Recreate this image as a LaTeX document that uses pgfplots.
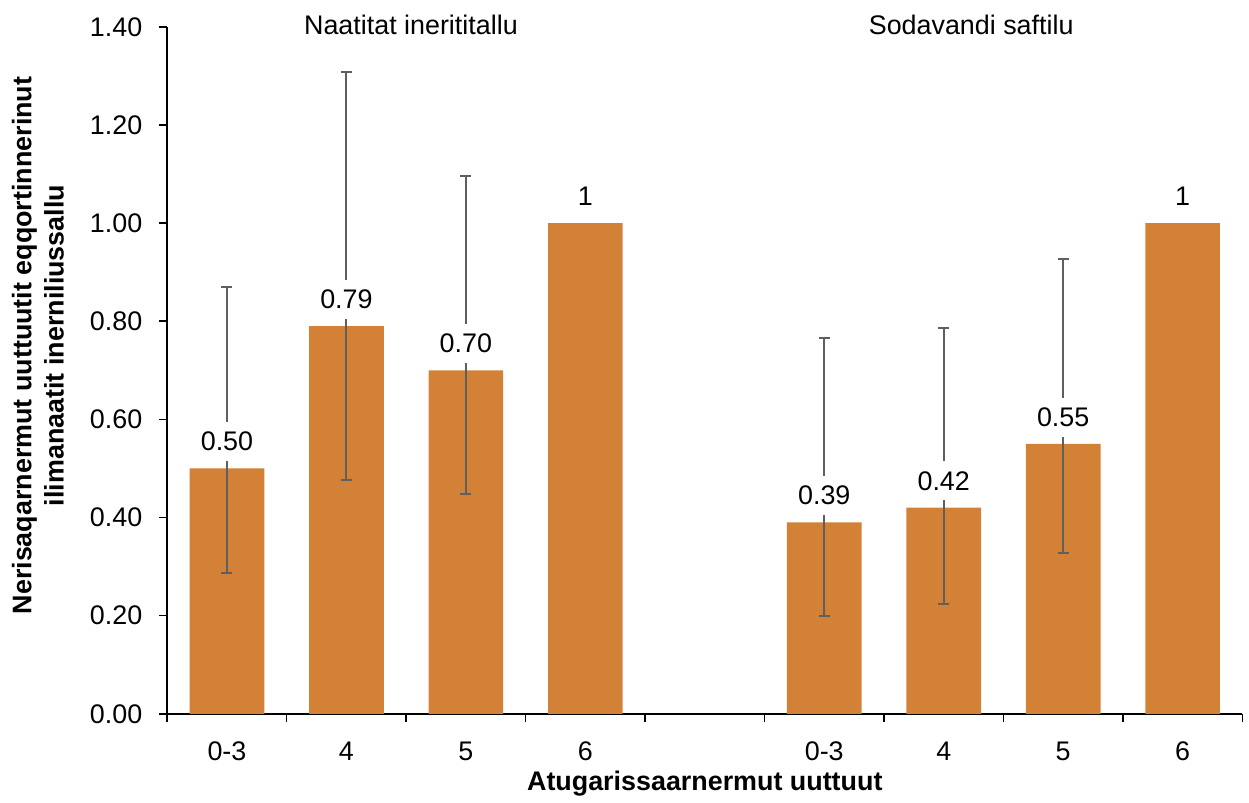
\documentclass[border=0pt]{standalone}
\usepackage{pgfplots}
\pgfplotsset{compat=1.18}
\usepackage{pgfplotstable}
\usepackage{fontspec}
\setmainfont{Liberation Sans}
\definecolor{barc}{RGB}{211,129,55}
\definecolor{errc}{RGB}{95,95,95}
\newcommand{\fs}{\fontsize{13.5}{16.2}\selectfont}
\pgfplotstableread{
x y lab
0.5 0.50 0.50
1.5 0.79 0.79
2.5 0.70 0.70
3.5 1.00 1
5.5 0.39 0.39
6.5 0.42 0.42
7.5 0.55 0.55
8.5 1.00 1
}\bardata
\pgfplotstableread{
x y ep em
0.5 0.50 0.370 0.214
1.5 0.79 0.518 0.313
2.5 0.70 0.396 0.253
5.5 0.39 0.375 0.190
6.5 0.42 0.367 0.197
7.5 0.55 0.376 0.222
}\errdata
\begin{document}
\begin{tikzpicture}
\begin{axis}[
  scale only axis, width=540pt, height=345pt,
  xmin=0, xmax=9, ymin=0, ymax=1.4,
  axis x line=bottom, axis y line=left,
  axis line style={-, line width=0.9pt, black},
  clip=false,
  xtick={0.5,1.5,2.5,3.5,5.5,6.5,7.5,8.5},
  xticklabels={0-3,4,5,6,0-3,4,5,6},
  xtick style={draw=none},
  extra x ticks={0,1,2,3,4,5,6,7,8,9},
  extra x tick labels={},
  extra x tick style={xtick style={draw=black, line width=0.8pt}},
  ytick={0,0.2,0.4,0.6,0.8,1.0,1.2,1.4},
  ytick style={black, line width=0.8pt},
  major tick length=4pt, tick align=outside,
  yticklabel style={xshift=-5pt, /pgf/number format/.cd, fixed, fixed zerofill, precision=2, assume math mode=true},
  ticklabel style={font=\fs},
  xticklabel style={yshift=-6.5pt},
  xlabel={Atugarissaarnermut uuttuut},
  xlabel style={font=\bfseries\fs, at={(axis description cs:0.5,0)}, anchor=center, yshift=-35pt},
  ylabel={Nerisaqarnermut uuttuutit eqqortinnerinut\\ilimanaatit inerniliussallu},
  ylabel style={font=\bfseries\fs, align=center, at={(axis description cs:-0.1204,0.5362)}, anchor=center},
]
\addplot[ybar, bar width=0.625, fill=barc, draw=none] table[x=x, y=y] {\bardata};
\addplot[draw=none, mark=none,
  error bars/.cd, y dir=both, y explicit,
  error bar style={errc, line width=1pt},
  error mark options={errc, line width=1pt, mark size=2.75pt, rotate=90}]
  table[x=x, y=y, y error plus=ep, y error minus=em] {\errdata};
\addplot[draw=none, mark=none, point meta=explicit symbolic,
  nodes near coords,
  nodes near coords style={font=\fs, fill=white, inner xsep=1pt, inner ysep=5pt, anchor=south, yshift=3.5pt}]
  table[x=x, y=y, meta=lab] {\bardata};
\node[font=\fs, anchor=center] at (axis cs:2.04,1.404) {Naatitat inerititallu};
\node[font=\fs, anchor=center] at (axis cs:6.73,1.404) {Sodavandi saftilu};
\end{axis}
\path[use as bounding box] ([xshift=-84pt,yshift=-43pt]current axis.south west) rectangle ([xshift=0.5pt,yshift=13.5pt]current axis.north east);
\end{tikzpicture}
\end{document}
